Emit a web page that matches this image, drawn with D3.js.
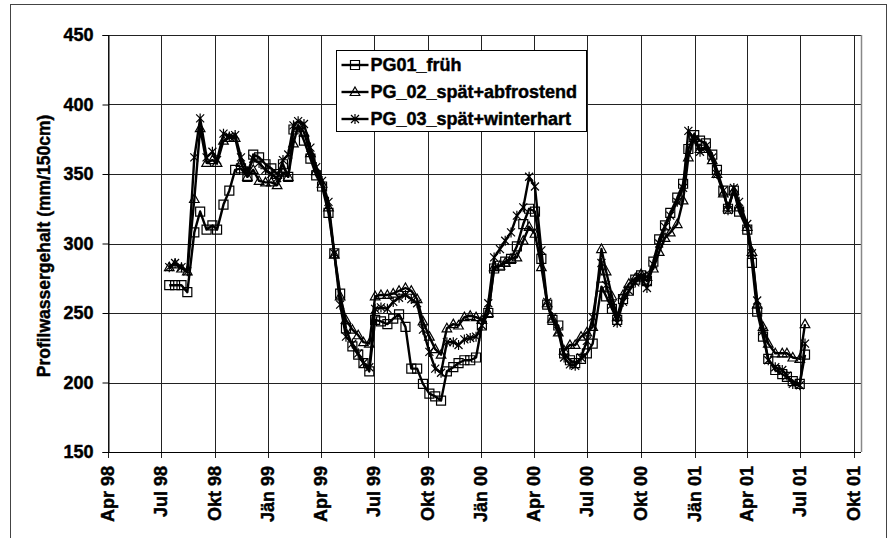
<!DOCTYPE html>
<html>
<head>
<meta charset="utf-8">
<script src="https://cdn.jsdelivr.net/npm/d3@7"></script>
<style>
  body { margin: 0; background: #fff; }
  svg { display: block; }
  svg text { font-family: "Liberation Sans", Arial, sans-serif; font-weight: 700; fill: #000; stroke: #000; stroke-width: 0.45px; }
</style>
</head>
<body>
<svg width="888" height="538"></svg>
<script>
const dates = [
  "1998-07-15","1998-07-25","1998-08-05","1998-08-15","1998-08-27","1998-09-06","1998-09-17","1998-09-27",
  "1998-10-05","1998-10-16","1998-10-26","1998-11-05","1998-11-15","1998-11-26","1998-12-06","1998-12-16",
  "1998-12-27","1999-01-06","1999-01-16","1999-01-26","1999-02-04","1999-02-13","1999-02-21","1999-03-03",
  "1999-03-14","1999-03-24","1999-04-03","1999-04-14","1999-04-24","1999-05-04","1999-05-14","1999-05-25",
  "1999-06-04","1999-06-13","1999-06-23","1999-07-03","1999-07-13","1999-07-24","1999-08-03","1999-08-13",
  "1999-08-24","1999-09-03","1999-09-13","1999-09-23","1999-10-04","1999-10-14","1999-10-24","1999-11-03",
  "1999-11-14","1999-11-23","1999-12-03","1999-12-13","1999-12-23","2000-01-02","2000-01-13","2000-01-23",
  "2000-02-02","2000-02-11","2000-02-21","2000-03-02","2000-03-13","2000-03-23","2000-04-02","2000-04-13",
  "2000-04-23","2000-05-02","2000-05-12","2000-05-22","2000-06-01","2000-06-10","2000-06-20","2000-06-30",
  "2000-07-10","2000-07-25","2000-08-02","2000-08-12","2000-08-21","2000-08-31","2000-09-10","2000-09-21",
  "2000-10-01","2000-10-11","2000-10-22","2000-11-01","2000-11-11","2000-11-20","2000-12-02","2000-12-12",
  "2000-12-21","2000-12-31","2001-01-10","2001-01-20","2001-01-31","2001-02-08","2001-02-19","2001-02-27",
  "2001-03-09","2001-03-18","2001-04-01","2001-04-09","2001-04-18","2001-04-28","2001-05-07","2001-05-19",
  "2001-05-31","2001-06-08","2001-06-18","2001-06-30","2001-07-09"
];

const pg01 = [
  270,270,270,265,308,323,310,313, 310,328,338,353,354,348,364,362,
  357,354,350,357,348,382,384,374, 361,349,341,322,293,264,239,226,
  220,214,208,245,244,242,246,249, 240,210,210,199,192,190,187,208,
  211,214,216,216,218,241,250,282, 284,287,289,298,314,325,323,289,
  256,245,241,221,216,214,217,221, 228,269,262,253,245,260,266,274,
  277,273,287,303,313,322,333,343, 368,378,374,372,364,353,338,325,
  338,323,310,286,251,233,217,209, 206,204,201,199,220
];
const pg02 = [
  283,285,282,280,332,383,358,360, 358,374,376,376,358,348,353,345,
  344,344,342,351,348,372,385,380, 365,352,343,326,292,262,245,238,
  234,229,228,262,263,263,264,266, 268,266,260,244,233,224,220,239,
  242,241,247,248,247,245,250,283, 284,286,289,290,302,312,307,283,
  257,246,236,223,227,227,233,236, 240,296,280,262,247,263,271,275,
  278,276,282,294,304,308,314,331, 362,376,368,368,360,350,336,326,
  338,326,312,294,256,240,228,221, 221,221,218,217,242
];
const pg03 = [
  283,286,283,280,362,390,362,366, 360,379,377,378,362,352,361,358,
  353,350,347,360,364,385,388,386, 369,355,345,330,293,256,233,228,
  221,214,211,253,254,253,258,261, 263,260,257,238,222,210,207,229,
  229,227,231,232,233,241,257,290, 296,302,308,320,326,348,341,295,
  258,247,237,218,213,212,218,230, 247,286,270,256,243,258,266,272,
  276,268,285,300,312,320,330,340, 381,375,366,370,362,350,338,324,
  340,330,314,293,259,237,216,211, 209,205,199,198,228
];

const seriesNames = ["PG01_früh", "PG_02_spät+abfrostend", "PG_03_spät+winterhart"];
const markerTypes = ["square", "triangle", "star"];

const tickDates = ["1998-04-01","1998-07-01","1998-10-01","1999-01-01","1999-04-01","1999-07-01","1999-10-01",
  "2000-01-01","2000-04-01","2000-07-01","2000-10-01","2001-01-01","2001-04-01","2001-07-01","2001-10-01"];
const tickLabels = ["Apr 98","Jul 98","Okt 98","Jän 99","Apr 99","Jul 99","Okt 99",
  "Jän 00","Apr 00","Jul 00","Okt 00","Jän 01","Apr 01","Jul 01","Okt 01"];
const yTicks = [150, 200, 250, 300, 350, 400, 450];

const parse = d3.timeParse("%Y-%m-%d");
const svg = d3.select("svg");
const plot = { left: 108, right: 861, top: 35, bottom: 452 };

const x = d3.scaleTime()
  .domain([parse("1998-04-01"), parse("2001-10-13")])
  .range([plot.left, plot.right]);
const y = d3.scaleLinear().domain([150, 450]).range([plot.bottom, plot.top]);

// chart frame
svg.append("rect")
  .attr("x", 10.5).attr("y", 4.5).attr("width", 876).attr("height", 560)
  .attr("fill", "none").attr("stroke", "#444").attr("stroke-width", 1);

// grid
svg.append("g").selectAll("line").data(yTicks).join("line")
  .attr("x1", plot.left).attr("x2", plot.right)
  .attr("y1", d => Math.round(y(d)) + 0.5).attr("y2", d => Math.round(y(d)) + 0.5)
  .attr("stroke", "#222").attr("stroke-width", 1);

const tickData = tickDates.map((d, i) => ({ date: parse(d), label: tickLabels[i] }));
svg.append("g").selectAll("line").data(tickData).join("line")
  .attr("x1", d => Math.round(x(d.date)) + 0.5).attr("x2", d => Math.round(x(d.date)) + 0.5)
  .attr("y1", plot.top).attr("y2", plot.bottom + 6)
  .attr("stroke", "#222").attr("stroke-width", 1);

svg.append("line")
  .attr("x1", plot.right + 0.5).attr("x2", plot.right + 0.5)
  .attr("y1", plot.top).attr("y2", plot.bottom)
  .attr("stroke", "#888").attr("stroke-width", 1.5);

// y axis
const yAxis = svg.append("g").attr("transform", `translate(${plot.left + 0.5},0)`)
  .call(d3.axisLeft(y).tickValues(yTicks).tickSize(6).tickPadding(9));
yAxis.select(".domain").attr("stroke", "#000");
yAxis.selectAll("text").attr("font-size", "18px").attr("font-weight", "700")
  .attr("font-family", "Liberation Sans, Arial").attr("fill", "#000");

svg.append("line")
  .attr("x1", plot.left).attr("x2", plot.right)
  .attr("y1", plot.bottom + 0.5).attr("y2", plot.bottom + 0.5)
  .attr("stroke", "#000");

svg.append("g").selectAll("text").data(tickData).join("text")
  .attr("transform", d => `translate(${x(d.date) + 6},${plot.bottom + 14}) rotate(-90)`)
  .attr("text-anchor", "end")
  .attr("font-size", "18px")
  .attr("font-weight", "700")
  .text(d => d.label);

svg.append("text")
  .attr("transform", `translate(50,246) rotate(-90)`)
  .attr("text-anchor", "middle")
  .attr("font-size", "17.5px")
  .attr("font-weight", "700")
  .text("Profilwassergehalt (mm/150cm)");

// series
const allSeries = [pg01, pg02, pg03].map((vals, i) => ({
  name: seriesNames[i],
  marker: markerTypes[i],
  points: dates.map((d, j) => ({ date: parse(d), value: vals[j] }))
}));

const line = d3.line().x(d => x(d.date)).y(d => y(d.value));

function markerPath(type) {
  if (type === "square") return "M-4.5,-4.5H4.5V4.5H-4.5Z";
  if (type === "triangle") return "M0,-5L4.8,3.5H-4.8Z";
  return "M-4,-4L4,4M-4,4L4,-4M0,-5V5";
}

allSeries.forEach(s => {
  svg.append("path").datum(s.points)
    .attr("d", line)
    .attr("fill", "none").attr("stroke", "#000").attr("stroke-width", 2.4)
    .attr("stroke-linejoin", "round");
  svg.append("g").selectAll("path").data(s.points).join("path")
    .attr("transform", d => `translate(${x(d.date)},${y(d.value)})`)
    .attr("d", markerPath(s.marker))
    .attr("fill", "none").attr("stroke", "#000").attr("stroke-width", 1.2);
});

// legend
const legend = svg.append("g").attr("transform", "translate(336.5,50.5)");
legend.append("rect").attr("width", 250).attr("height", 81)
  .attr("fill", "#fff").attr("stroke", "#000").attr("stroke-width", 1);
allSeries.forEach((s, i) => {
  const cy = 14.5 + i * 27;
  legend.append("line").attr("x1", 5).attr("x2", 32).attr("y1", cy).attr("y2", cy)
    .attr("stroke", "#000").attr("stroke-width", 2.4);
  legend.append("path").attr("transform", `translate(18.5,${cy})`)
    .attr("d", markerPath(s.marker)).attr("fill", "none").attr("stroke", "#000").attr("stroke-width", 1.2);
  legend.append("text").attr("x", 34).attr("y", cy).attr("dy", "0.36em")
    .attr("font-size", "18px").attr("font-weight", "700").text(s.name);
});
</script>
</body>
</html>
